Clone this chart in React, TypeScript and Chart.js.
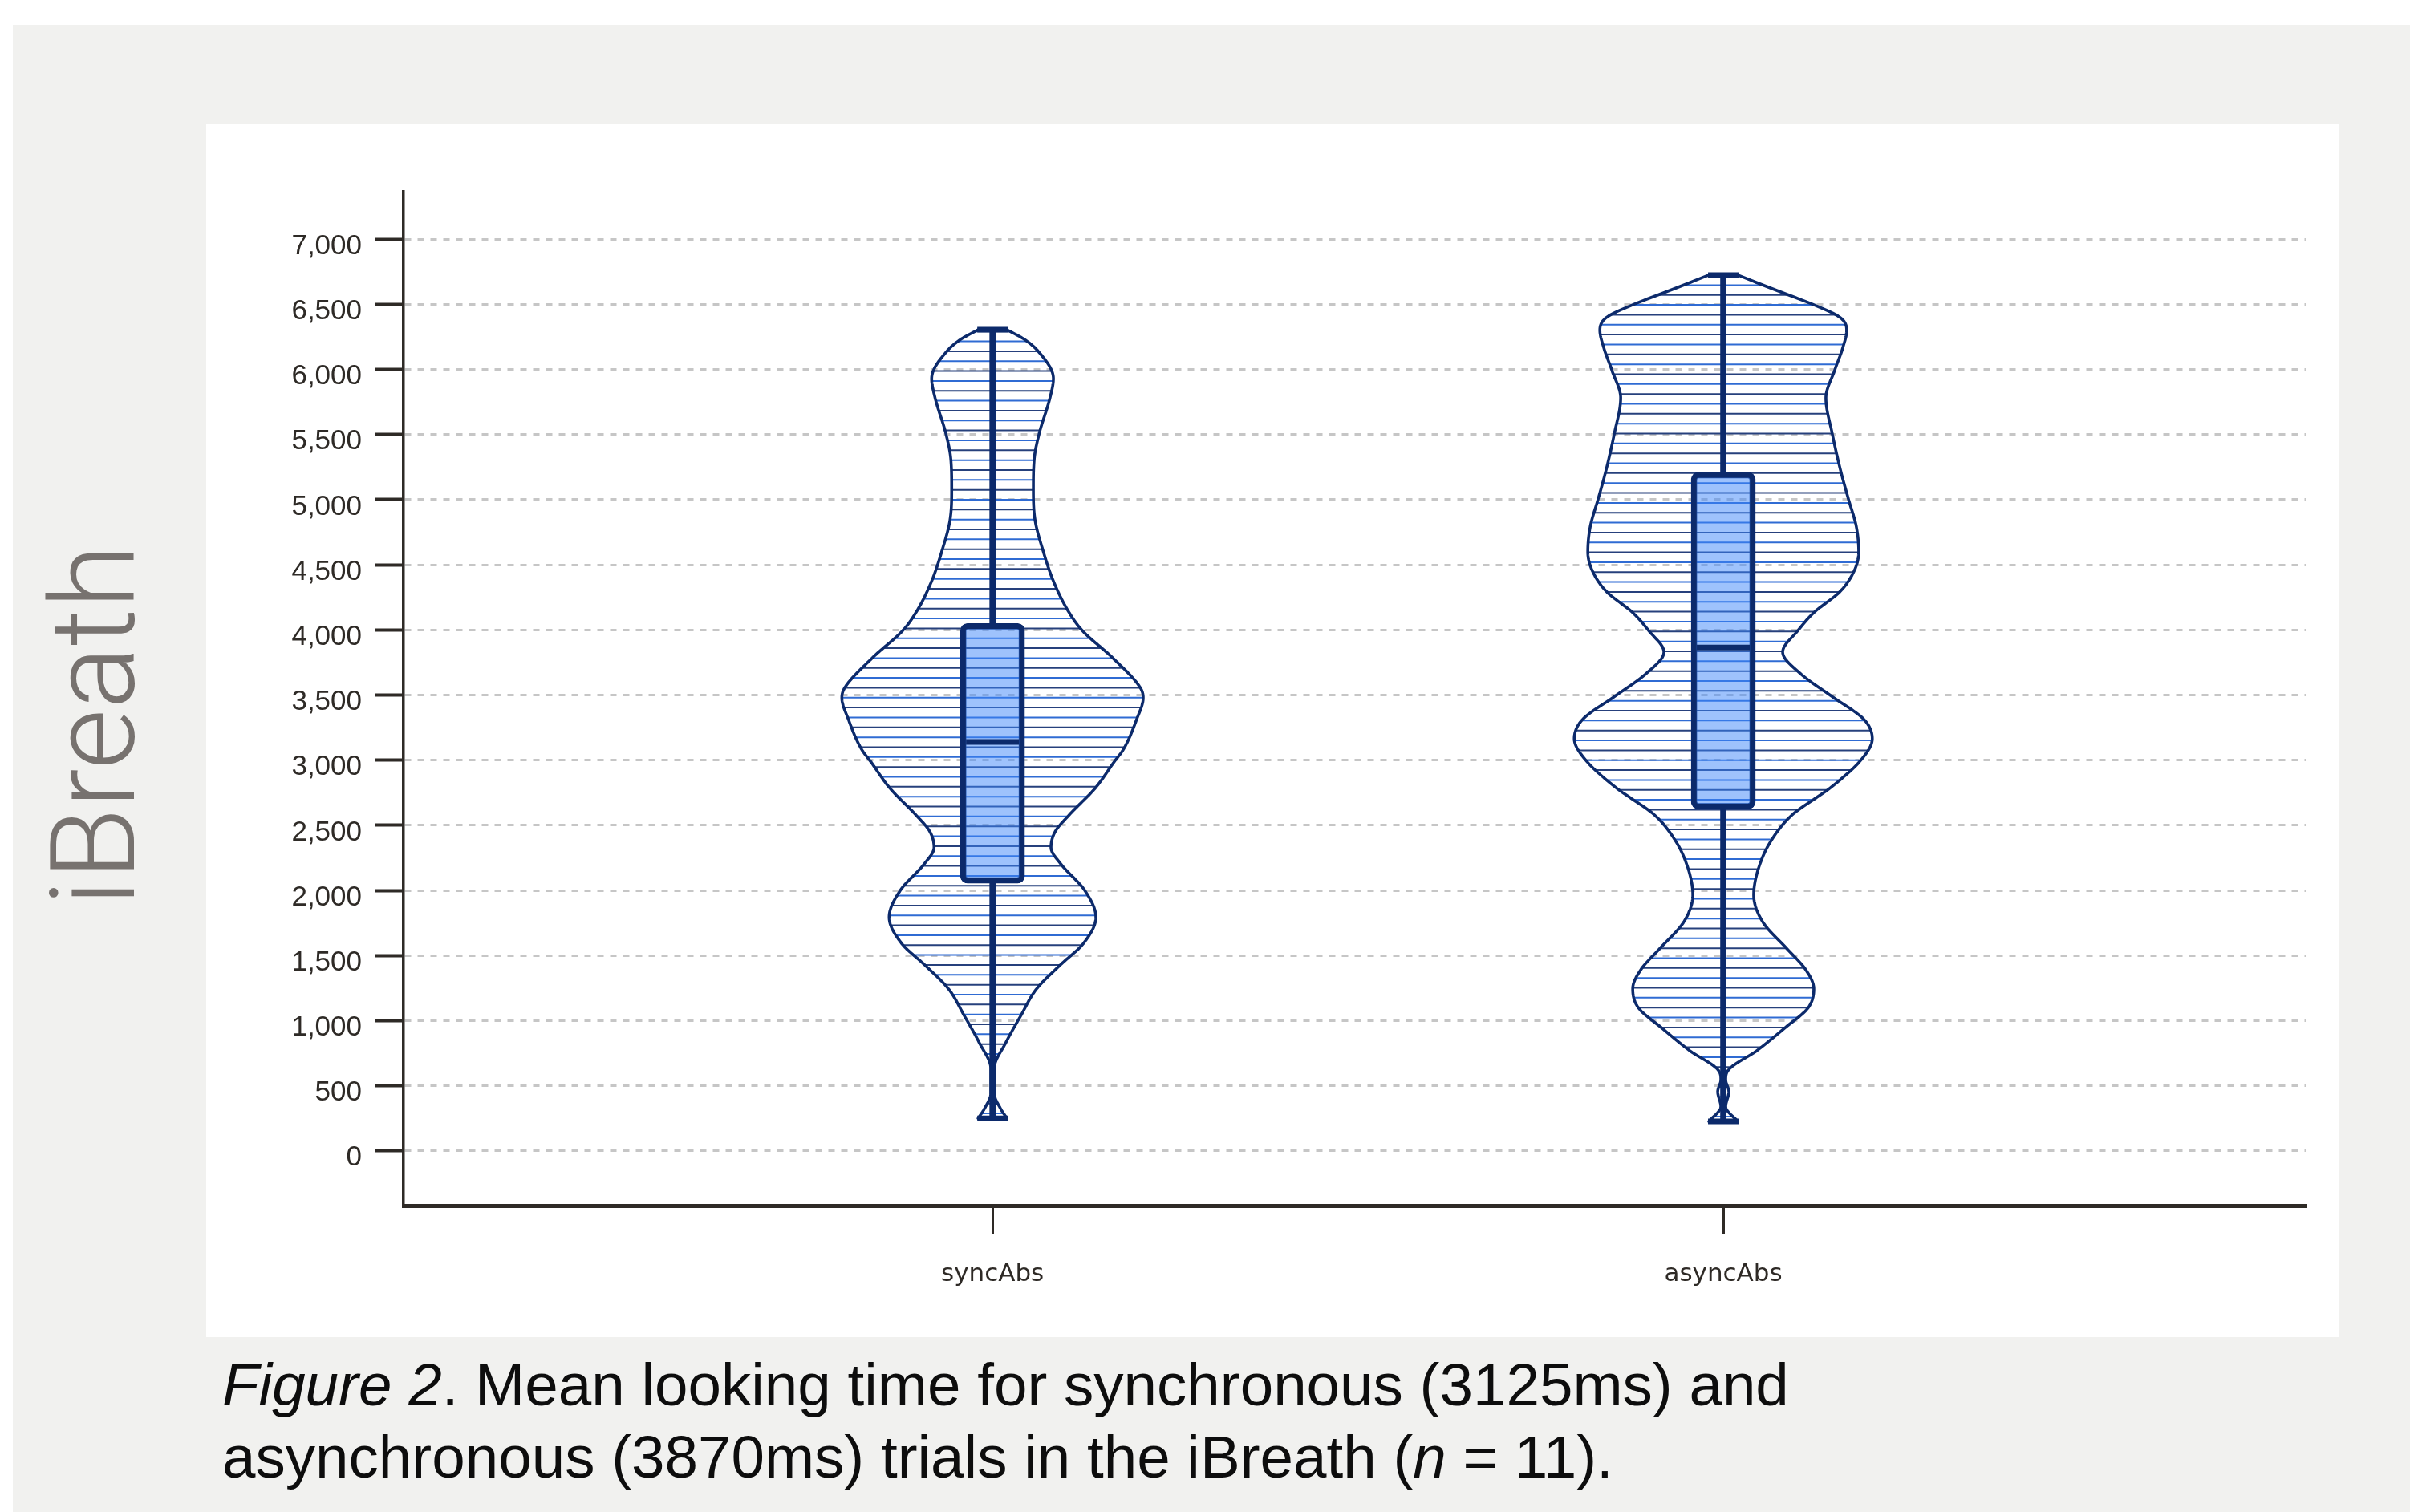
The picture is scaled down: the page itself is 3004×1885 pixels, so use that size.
import React, { useEffect, useRef } from 'react';
import { Chart, registerables } from 'chart.js';

Chart.register(...registerables);

// ---------------- data ----------------
const categories = ['syncAbs', 'asyncAbs'];
const categoryX = [1, 2];
const mins = [250, 226];
const q1s = [2055, 2625];
const medians = [3140, 3865];
const q3s = [4050, 5210];
const maxs = [6305, 6725];
const yTicks = [0, 500, 1000, 1500, 2000, 2500, 3000, 3500, 4000, 4500, 5000, 5500, 6000, 6500, 7000];

// violin density profiles (relative density, 1 = widest)
const syncDensityValues = [250, 325, 445, 630, 835, 1035, 1245, 1430, 1590, 1795, 2000, 2205, 2330, 2450, 2575, 2785, 2990, 3080, 3315, 3480, 3550, 3785, 3995, 4140, 4375, 4610, 4845, 5080, 5315, 5505, 5790, 5930, 6140, 6230, 6305];
const syncDensity = [0.096, 0.053, 0.011, 0.011, 0.09, 0.186, 0.293, 0.452, 0.601, 0.686, 0.612, 0.452, 0.388, 0.415, 0.505, 0.681, 0.809, 0.867, 0.957, 1.0, 0.984, 0.798, 0.596, 0.505, 0.404, 0.335, 0.282, 0.271, 0.277, 0.309, 0.383, 0.404, 0.303, 0.213, 0.096];
const asyncDensityValues = [226, 340, 455, 545, 610, 775, 940, 1100, 1245, 1390, 1555, 1760, 1965, 2170, 2375, 2580, 2785, 3010, 3165, 3310, 3488, 3666, 3830, 3995, 4133, 4297, 4462, 4600, 4793, 5007, 5232, 5508, 5782, 5993, 6166, 6303, 6398, 6497, 6578, 6650, 6725];
const asyncDensity = [0.096, 0.016, 0.037, 0.016, 0.027, 0.229, 0.404, 0.564, 0.601, 0.548, 0.42, 0.261, 0.202, 0.234, 0.314, 0.457, 0.707, 0.92, 0.989, 0.936, 0.723, 0.511, 0.394, 0.495, 0.601, 0.777, 0.872, 0.899, 0.883, 0.83, 0.777, 0.723, 0.681, 0.739, 0.793, 0.819, 0.777, 0.601, 0.42, 0.26, 0.096];

// ---------------- styles ----------------
const NAVY = '#0c2a6b';
const AXIS = '#2e2a26';
const GRID = '#c6c6c6';
const HATCH_COLORS = ['#2f6bd3', '#26407c'];
const HATCH_STEP = 76;
const VIOLIN_HALF_WIDTH = 0.2062; // x-axis units at density 1

const violinValues = [syncDensityValues, asyncDensityValues];
const violinDensity = [syncDensity, asyncDensity];

function monotone(xs: number[], ys: number[]) {
  const n = xs.length;
  const d: number[] = [];
  for (let i = 0; i < n - 1; i++) d.push((ys[i + 1] - ys[i]) / (xs[i + 1] - xs[i]));
  const m: number[] = new Array(n).fill(0);
  m[0] = d[0];
  m[n - 1] = d[n - 2];
  for (let i = 1; i < n - 1; i++) {
    m[i] = d[i - 1] * d[i] <= 0 ? 0 : (d[i - 1] + d[i]) / 2;
  }
  for (let i = 0; i < n - 1; i++) {
    if (d[i] === 0) { m[i] = 0; m[i + 1] = 0; continue; }
    const a = m[i] / d[i];
    const b = m[i + 1] / d[i];
    const s = a * a + b * b;
    if (s > 9) {
      const t = 3 / Math.sqrt(s);
      m[i] = t * a * d[i];
      m[i + 1] = t * b * d[i];
    }
  }
  return (x: number) => {
    if (x <= xs[0]) return ys[0];
    if (x >= xs[n - 1]) return ys[n - 1];
    let i = 0;
    while (i < n - 2 && x > xs[i + 1]) i++;
    const h = xs[i + 1] - xs[i];
    const t = (x - xs[i]) / h;
    const t2 = t * t, t3 = t2 * t;
    const v = (2 * t3 - 3 * t2 + 1) * ys[i] + (t3 - 2 * t2 + t) * h * m[i] + (-2 * t3 + 3 * t2) * ys[i + 1] + (t3 - t2) * h * m[i + 1];
    return Math.max(0, v);
  };
}

const violinPlugin = {
  id: 'violins',
  beforeDatasetsDraw(chart: any) {
    const { ctx, scales } = chart;
    const xs = scales.x, ys = scales.y;
    const unitPx = xs.getPixelForValue(1) - xs.getPixelForValue(0);
    categoryX.forEach((cxVal, i) => {
      const vals = violinValues[i];
      const f = monotone(vals, violinDensity[i]);
      const cx = xs.getPixelForValue(cxVal);
      const halfMax = VIOLIN_HALF_WIDTH * unitPx;
      const lo = vals[0], hi = vals[vals.length - 1];
      const N = 600;
      const pts: [number, number][] = [];
      for (let k = 0; k <= N; k++) {
        const v = lo + ((hi - lo) * k) / N;
        pts.push([ys.getPixelForValue(v), f(v) * halfMax]);
      }
      const path = new Path2D();
      pts.forEach(([py, w], k) => (k ? path.lineTo(cx + w, py) : path.moveTo(cx + w, py)));
      for (let k = N; k >= 0; k--) path.lineTo(cx - pts[k][1], pts[k][0]);
      path.closePath();

      ctx.save();
      ctx.clip(path);
      let j = 0;
      for (let v = lo + HATCH_STEP / 2; v < hi; v += HATCH_STEP, j++) {
        const py = ys.getPixelForValue(v);
        ctx.strokeStyle = HATCH_COLORS[j % 2];
        ctx.lineWidth = 2;
        ctx.beginPath();
        ctx.moveTo(cx - halfMax - 10, py);
        ctx.lineTo(cx + halfMax + 10, py);
        ctx.stroke();
      }
      ctx.restore();

      ctx.save();
      ctx.strokeStyle = NAVY;
      ctx.lineWidth = 3.6;
      ctx.lineJoin = 'round';
      ctx.stroke(path);
      ctx.restore();
    });
  },
};

export default function App() {
  const ref = useRef<HTMLCanvasElement>(null);

  useEffect(() => {
    if (!ref.current) return;
    const chart = new Chart(ref.current, {
      type: 'bar',
      data: {
        datasets: [
          {
            type: 'scatter',
            label: 'median',
            data: categoryX.map((x, i) => ({ x, y: medians[i] })),
            pointStyle: 'line',
            pointRadius: 33,
            pointHoverRadius: 33,
            pointBorderWidth: 7,
            borderColor: NAVY,
            backgroundColor: NAVY,
          } as any,
          {
            type: 'scatter',
            label: 'caps',
            data: [
              ...categoryX.map((x, i) => ({ x, y: mins[i] })),
              ...categoryX.map((x, i) => ({ x, y: maxs[i] })),
            ],
            pointStyle: 'line',
            pointRadius: 19,
            pointHoverRadius: 19,
            pointBorderWidth: 7,
            borderColor: NAVY,
            backgroundColor: NAVY,
          } as any,
          {
            type: 'bar',
            label: 'box',
            data: categoryX.map((x, i) => ({ x, y: [q1s[i], q3s[i]] })),
            barThickness: 80,
            backgroundColor: 'rgba(62,134,250,0.5)',
            borderColor: NAVY,
            borderWidth: 7,
            borderRadius: 9,
            borderSkipped: false,
            grouped: false,
          } as any,
          {
            type: 'bar',
            label: 'upper whisker',
            data: categoryX.map((x, i) => ({ x, y: [q3s[i], maxs[i]] })),
            barThickness: 7,
            backgroundColor: NAVY,
            borderWidth: 0,
            grouped: false,
          } as any,
          {
            type: 'bar',
            label: 'lower whisker',
            data: categoryX.map((x, i) => ({ x, y: [mins[i], q1s[i]] })),
            barThickness: 7,
            backgroundColor: NAVY,
            borderWidth: 0,
            grouped: false,
          } as any,
        ],
      },
      options: {
        responsive: false,
        animation: false,
        events: [],
        layout: { padding: { left: 0, top: 84, right: 42, bottom: 0 } },
        plugins: { legend: { display: false }, tooltip: { enabled: false } },
        scales: {
          x: {
            type: 'linear',
            offset: false,
            min: 0.194,
            max: 2.797,
            afterBuildTicks: (s: any) => { s.ticks = categoryX.map((v) => ({ value: v })); },
            afterFit: (s: any) => { s.height = 164; },
            grid: { offset: false, drawOnChartArea: false, drawTicks: true, tickLength: 35, tickWidth: 3, tickColor: AXIS },
            border: { display: true, color: AXIS, width: 5 },
            ticks: {
              callback: (v: any) => { const k = categoryX.indexOf(Number(v)); return k >= 0 ? categories[k] : ''; },
              font: { family: '"DejaVu Sans", sans-serif', size: 31 },
              color: AXIS,
              padding: 32,
              maxRotation: 0,
              autoSkip: false,
            },
          },
          y: {
            type: 'linear',
            min: -420,
            max: 7365,
            afterBuildTicks: (s: any) => { s.ticks = yTicks.map((v) => ({ value: v })); },
            afterFit: (s: any) => { s.width = 246; },
            grid: { color: GRID, lineWidth: 3, drawTicks: true, tickLength: 35, tickWidth: 4, tickColor: AXIS },
            border: { display: true, color: AXIS, width: 3.5, dash: [8, 8] },
            ticks: {
              callback: (v: any) => Number(v).toLocaleString('en-US'),
              font: { family: '"Liberation Sans", Arial, sans-serif', size: 35 },
              color: AXIS,
              padding: 17,
              labelOffset: 9,
              autoSkip: false,
            },
          },
        } as any,
      },
      plugins: [violinPlugin],
    } as any);
    return () => chart.destroy();
  }, []);

  return (
    <div style={{ position: 'fixed', left: 0, top: 0, width: 3004, height: 1885, background: '#ffffff', overflow: 'hidden' }}>
      <div style={{ position: 'absolute', left: 16, top: 31, right: 0, bottom: 0, background: '#f1f1ef' }} />
      <div style={{ position: 'absolute', left: 257, top: 155, width: 2659, height: 1512, background: '#ffffff' }}>
        <canvas ref={ref} width={2659} height={1512} style={{ display: 'block', width: 2659, height: 1512 }} />
      </div>
      <div
        style={{
          position: 'absolute',
          left: 118,
          top: 904,
          transform: 'translate(-50%, -50%) rotate(-90deg)',
          fontFamily: 'Roboto, "Open Sans", Lato, sans-serif',
          fontWeight: 300,
          fontSize: 146,
          lineHeight: '146px',
          color: '#77726f',
          whiteSpace: 'nowrap',
        }}
      >
        iBreath
      </div>
      <div
        style={{
          position: 'absolute',
          left: 277,
          top: 1681,
          fontFamily: '"Liberation Sans", Arial, Helvetica, sans-serif',
          fontSize: 74.6,
          lineHeight: '90px',
          color: '#0d0d0d',
          whiteSpace: 'nowrap',
        }}
      >
        <i>Figure 2</i>. Mean looking time for synchronous (3125ms) and
        <br />
        asynchronous (3870ms) trials in the iBreath (<i>n</i> = 11).
      </div>
    </div>
  );
}
